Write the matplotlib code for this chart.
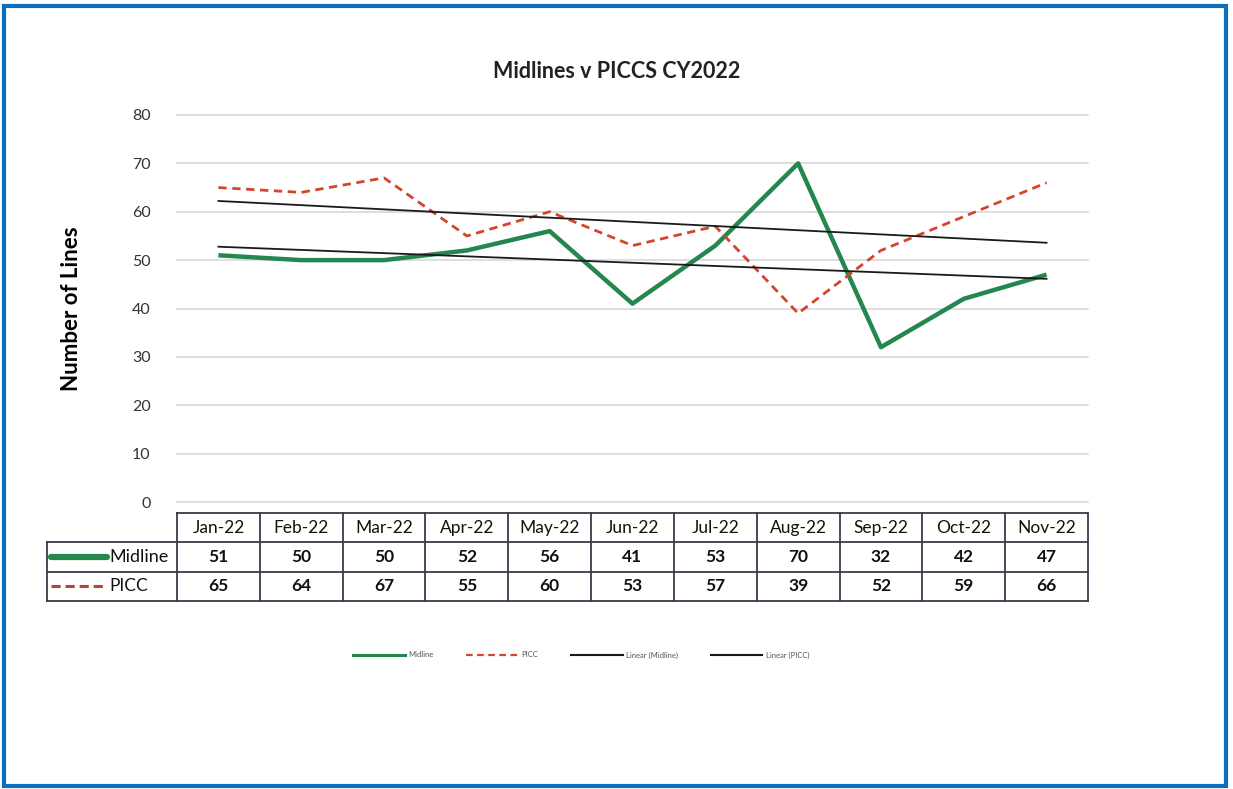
import matplotlib
matplotlib.use("Agg")
import matplotlib.pyplot as plt
import numpy as np
from matplotlib.lines import Line2D
from matplotlib.patches import Rectangle

months = ["Jan-22", "Feb-22", "Mar-22", "Apr-22", "May-22", "Jun-22",
          "Jul-22", "Aug-22", "Sep-22", "Oct-22", "Nov-22"]
midline = [51, 50, 50, 52, 56, 41, 53, 70, 32, 42, 47]
picc = [65, 64, 67, 55, 60, 53, 57, 39, 52, 59, 66]
y_ticks = [0, 10, 20, 30, 40, 50, 60, 70, 80]

GREEN = "#23874f"
RED = "#d5442c"
FONT = ["Lato", "DejaVu Sans"]
plt.rcParams["font.family"] = FONT

W, H = 1233, 789
fig = plt.figure(figsize=(W / 100, H / 100), dpi=100)

def fx(px):
    return px / W

def fy(py):
    return 1 - py / H

# main plot axes
left, right = 177, 1088
top, bottom = 115, 502
ax = fig.add_axes([fx(left), fy(bottom), fx(right - left), (bottom - top) / H])
x = np.arange(len(months))
ax.set_xlim(-0.5, len(months) - 0.5)
ax.set_ylim(0, 80)
for t in y_ticks:
    ax.axhline(t, color="#d4d4d4", lw=1.1, zorder=0, clip_on=False)
ax.plot(x, midline, color=GREEN, lw=3.2, solid_capstyle="butt", zorder=3)
ax.plot(x, picc, color=RED, lw=2.0, dashes=(3, 2), zorder=3)
cm = np.polyfit(x, midline, 1)
cp = np.polyfit(x, picc, 1)
ax.plot(x, np.polyval(cm, x), color="#1a1a1a", lw=1.3, zorder=4)
ax.plot(x, np.polyval(cp, x), color="#1a1a1a", lw=1.3, zorder=4)
ax.set_yticks(y_ticks)
ax.set_yticklabels([str(t) for t in y_ticks], fontsize=11.5, color="#333333")
ax.set_xticks([])
for s in ax.spines.values():
    s.set_visible(False)
ax.tick_params(axis="y", length=0, pad=19)
ax.set_ylabel("Number of Lines", fontsize=16, fontweight="bold", labelpad=36)
fig.text(fx(617), fy(72), "Midlines v PICCS CY2022", fontsize=15.5,
         fontweight="bold", ha="center", va="center", color="#222222")

# data table
tl, tr, tt, tb = 47, 1088, 513, 601
tax = fig.add_axes([fx(tl), fy(tb), fx(tr - tl), (tb - tt) / H])
col_w = (right - left) / len(months)
lab_units = (left - tl) / col_w
tax.set_xlim(-0.5 - lab_units, len(months) - 0.5)
tax.set_ylim(0, 3)
tax.axis("off")
lc = "#3a3a4a"
tax.plot([-0.5, len(months) - 0.5], [3, 3], color=lc, lw=1.3, clip_on=False)
for yy in [0, 1, 2]:
    tax.plot([-0.5 - lab_units, len(months) - 0.5], [yy, yy], color=lc, lw=1.3, clip_on=False)
tax.plot([-0.5 - lab_units] * 2, [0, 2], color=lc, lw=1.3, clip_on=False)
for i in range(len(months) + 1):
    tax.plot([i - 0.5] * 2, [0, 3], color=lc, lw=1.3, clip_on=False)
for i, m in enumerate(months):
    tax.text(i, 2.5, m, ha="center", va="center", fontsize=12.5, color="#111111")
    tax.text(i, 1.5, str(midline[i]), ha="center", va="center", fontsize=12.5,
             fontweight="bold", color="#111111")
    tax.text(i, 0.5, str(picc[i]), ha="center", va="center", fontsize=12.5,
             fontweight="bold", color="#111111")
x0 = -0.5 - lab_units
tax.plot([x0 + 0.05, x0 + 0.73], [1.5, 1.5], color=GREEN, lw=4.5,
         solid_capstyle="round", clip_on=False)
tax.plot([x0 + 0.05, x0 + 0.73], [0.5, 0.5], color="#b5473a", lw=2.2,
         dashes=(3, 1.6), clip_on=False)
tax.text(x0 + 0.75, 1.5, "Midline", ha="left", va="center", fontsize=13, color="#111111")
tax.text(x0 + 0.75, 0.5, "PICC", ha="left", va="center", fontsize=12.5, color="#111111")

# legend
handles = [
    Line2D([], [], color=GREEN, lw=2.2),
    Line2D([], [], color=RED, lw=1.6, dashes=(3, 2)),
    Line2D([], [], color="#1a1a1a", lw=1.5),
    Line2D([], [], color="#1a1a1a", lw=1.5),
]
labels = ["Midline", "PICC", "Linear (Midline)", "Linear (PICC)"]
fig.legend(handles, labels, loc="center", bbox_to_anchor=(fx(581), fy(655)),
           ncol=4, frameon=False, fontsize=5.5, handlelength=6.8,
           columnspacing=4.3, handletextpad=0.4, labelcolor="#555555")

# blue border
fig.patches.append(Rectangle((fx(4), fy(786)), fx(1226 - 4), (786 - 6) / H,
                             transform=fig.transFigure, fill=False,
                             edgecolor="#0b6fbd", lw=3))

fig.savefig("out.png", dpi=100)
